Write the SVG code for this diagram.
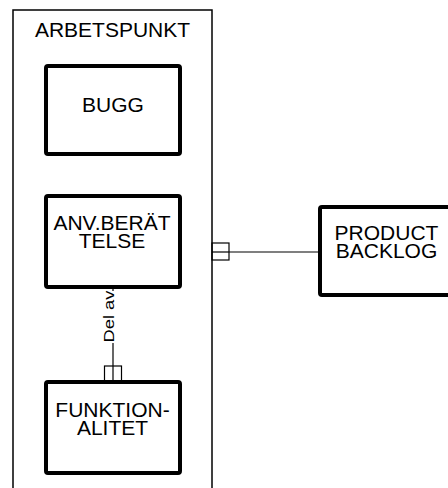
<svg xmlns="http://www.w3.org/2000/svg" width="448" height="488" viewBox="0 0 448 488">
<style>
.box{fill:#fff;stroke:#000;stroke-width:4;}
.cont{fill:#fff;stroke:#000;stroke-width:1.5;}
.t{font-family:"Liberation Sans",Arial,sans-serif;font-size:21px;fill:#000;text-anchor:middle;}
.c{fill:none;stroke:#000;stroke-width:1.2;}
.lbl{font-family:"Liberation Sans",Arial,sans-serif;font-size:15px;fill:#000;text-anchor:middle;}
</style>
<rect width="448" height="488" fill="#fff"/>
<g id="arbetspunkt">
<rect class="cont" x="13" y="10" width="199" height="490"/>
<text class="t" x="112.5" y="37">ARBETSPUNKT</text>
</g>
<g id="bugg">
<rect class="box" x="46" y="66" width="134" height="88" rx="2"/>
<text class="t" x="113" y="112">BUGG</text>
</g>
<g id="anvberattelse">
<rect class="box" x="46" y="196" width="134" height="91" rx="2"/>
<text class="t" x="112" y="230">ANV.BERÄT</text>
<text class="t" x="112" y="248">TELSE</text>
</g>
<g id="funktionalitet">
<rect class="box" x="46" y="382" width="134" height="91" rx="2"/>
<text class="t" x="112.5" y="417">FUNKTION-</text>
<text class="t" x="112.5" y="435">ALITET</text>
</g>
<g id="productbacklog">
<rect class="box" x="320" y="207" width="134" height="88" rx="2"/>
<text class="t" x="386.5" y="240">PRODUCT</text>
<text class="t" x="386.5" y="258">BACKLOG</text>
</g>
<g id="connectors">
<line class="c" x1="229" y1="252" x2="320" y2="252"/>
<rect class="c" x="212" y="243" width="17" height="17"/>
<line class="c" x1="212" y1="252" x2="229" y2="252"/>
<line class="c" x1="113" y1="287" x2="113" y2="291"/>
<line class="c" x1="113" y1="343" x2="113" y2="382"/>
<rect class="c" x="104.5" y="366" width="17" height="16"/>
<text class="lbl" transform="translate(113.5,316.5) rotate(-90)" x="0" y="0" textLength="52" lengthAdjust="spacingAndGlyphs">Del av</text>
</g>
</svg>
